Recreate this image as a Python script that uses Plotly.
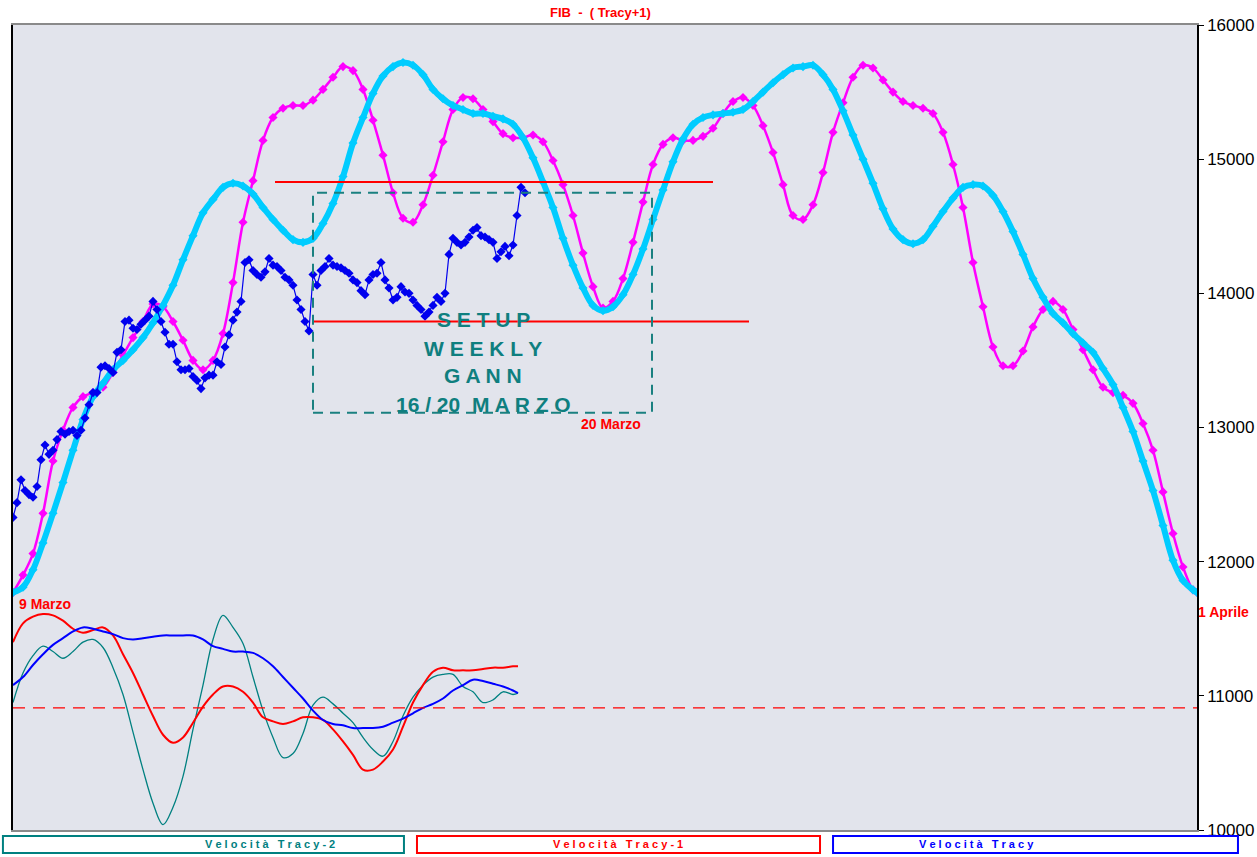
import plotly.graph_objects as go

# ---------------- data ----------------
# cycle curves (x = time step, common to both)
x_cycle = list(range(0, 1181, 10)) + [1184]
tracy_plus1 = [
    11770, 11900, 12060, 12360, 12750, 12980, 13150, 13230, 13260, 13300,
    13410, 13540, 13670, 13790, 13920, 13900, 13790, 13650, 13500, 13430,
    13500, 13700, 14080, 14530, 14840, 15140, 15310, 15380, 15400, 15400,
    15440, 15520, 15610, 15690, 15660, 15520, 15290, 15030, 14750, 14560,
    14530, 14660, 14880, 15130, 15370, 15460, 15450, 15370, 15280, 15190,
    15160, 15160, 15180, 15130, 14990, 14810, 14580, 14300, 14050, 13890,
    13940, 14110, 14380, 14680, 14960, 15110, 15160, 15140, 15140, 15170,
    15230, 15340, 15430, 15460, 15400, 15250, 15050, 14810, 14580, 14550,
    14660, 14900, 15200, 15420, 15610, 15700, 15680, 15590, 15500, 15430,
    15400, 15380, 15340, 15200, 14960, 14640, 14230, 13900, 13600, 13460,
    13460, 13570, 13750, 13880, 13940, 13880, 13730, 13580, 13430, 13300,
    13260, 13240, 13180, 13030, 12830, 12520, 12210, 11960, 11790, 11770,
]
tracy = [
    11770, 11810, 11940, 12140, 12360, 12590, 12830, 13060, 13230, 13330,
    13430, 13500, 13580, 13670, 13780, 13910, 14060, 14250, 14430, 14600,
    14700, 14790, 14820, 14800, 14740, 14640, 14550, 14470, 14400, 14380,
    14410, 14520, 14670, 14870, 15120, 15310, 15490, 15620, 15690, 15720,
    15700, 15630, 15520, 15450, 15400, 15370, 15340, 15340, 15320, 15300,
    15260, 15160, 15010, 14830, 14640, 14410, 14210, 14040, 13910, 13870,
    13900, 13990, 14140, 14330, 14550, 14770, 14980, 15150, 15260, 15310,
    15330, 15340, 15350, 15370, 15430, 15500, 15570, 15630, 15680, 15690,
    15700, 15630, 15520, 15360, 15180, 15000, 14820, 14630, 14480, 14400,
    14370, 14400, 14500, 14610, 14710, 14790, 14810, 14800, 14730, 14610,
    14460, 14290, 14110, 13970, 13850, 13780, 13700, 13630, 13560, 13440,
    13320, 13150, 12970, 12750, 12530, 12270, 12010, 11860, 11790, 11770,
]

# FIB price
x_price = list(range(0, 513, 4))
price = [
    12330, 12440, 12610, 12530, 12500, 12480, 12560, 12760, 12870, 12800,
    12830, 12910, 12970, 12950, 12970, 12980, 12940, 12980, 13070, 13170,
    13260, 13260, 13450, 13460, 13440, 13410, 13560, 13580, 13790, 13800,
    13740, 13730, 13770, 13800, 13830, 13940, 13880, 13790, 13710, 13620,
    13620, 13490, 13430, 13430, 13440, 13380, 13350, 13290, 13370, 13390,
    13390, 13490, 13470, 13600, 13690, 13800, 13860, 13940, 14230, 14250,
    14170, 14140, 14120, 14160, 14260, 14210, 14200, 14170, 14120, 14100,
    14060, 13950, 13880, 13790, 13720, 14140, 14060, 14170, 14200, 14260,
    14210, 14200, 14190, 14170, 14150, 14100, 14080, 14020, 13990, 14100,
    14140, 14150, 14230, 14100, 14040, 13950, 13970, 14050, 14010, 14000,
    13950, 13910, 13880, 13830, 13860, 13910, 13970, 13940, 14000, 14290,
    14410, 14380, 14360, 14380, 14420, 14470, 14490, 14430, 14420, 14400,
    14380, 14260, 14310, 14350, 14280, 14360, 14580, 14790, 14750,
]

# velocity indicators
x_vel = list(range(0, 501, 10)) + [505]
vel_tracy_2 = [
    10950, 11170, 11300, 11370, 11330, 11280, 11330, 11400, 11420, 11360,
    11210, 11010, 10730, 10450, 10200, 10040, 10170, 10400, 10750, 11080,
    11420, 11600, 11510, 11390, 11140, 10890, 10690, 10540, 10570, 10720,
    10930, 10990, 10940, 10870, 10800, 10690, 10600, 10550, 10660, 10850,
    10990, 11080, 11140, 11160, 11160, 11070, 11030, 10950, 10970, 11030,
    11010, 11020,
]
vel_tracy_1 = [
    11400, 11540, 11590, 11610, 11600, 11560, 11500, 11470, 11490, 11510,
    11450, 11310, 11170, 11010, 10850, 10710, 10650, 10690, 10800, 10920,
    11010, 11070, 11070, 11030, 10950, 10840, 10810, 10790, 10810, 10840,
    10840, 10820, 10750, 10660, 10560, 10450, 10450, 10510, 10600, 10770,
    10950, 11080, 11180, 11210, 11190, 11190, 11190, 11200, 11210, 11210,
    11220, 11220,
]
vel_tracy = [
    11080, 11140, 11230, 11310, 11380, 11430, 11480, 11510, 11500, 11480,
    11460, 11430, 11420, 11430, 11440, 11450, 11450, 11450, 11450, 11420,
    11370, 11350, 11330, 11330, 11320, 11280, 11220, 11140, 11060, 10980,
    10890, 10820, 10790, 10780, 10760, 10760, 10760, 10770, 10800, 10830,
    10870, 10910, 10940, 10980, 11040, 11080, 11120, 11110, 11090, 11070,
    11040, 11020,
]

# reference levels / setup box
resistance = 14830
resistance_x = (262, 700)
support = 13790
support_x = (300, 736)
vel_zero = 10910
setup_box = dict(x0=300, x1=639, y0=13110, y1=14750)

y_ticks = [10000, 11000, 12000, 13000, 14000, 15000, 16000]
y_tick_text = ["10000", "11000", "12000", "13000", "14000", "15000", "16000"]
legend_labels = ["Velocità Tracy-2", "Velocità Tracy-1", "Velocità Tracy"]

# ---------------- styles ----------------
FONT = "Liberation Sans, Arial, sans-serif"
MAGENTA = "#ff00ff"
CYAN = "#00ccff"
PRICE_BLUE = "#0000ee"
TEAL = "#008080"
RED = "#ff0000"
BLUE = "#0000ff"

fig = go.Figure()

fig.add_trace(go.Scatter(
    x=x_cycle, y=tracy_plus1, mode="lines+markers",
    line=dict(color=MAGENTA, width=2.5, shape="spline"),
    marker=dict(symbol="diamond", size=7, color=MAGENTA),
    name="Tracy+1"))
fig.add_trace(go.Scatter(
    x=x_cycle, y=tracy, mode="lines+markers",
    line=dict(color=CYAN, width=6, shape="spline"),
    marker=dict(symbol="diamond", size=7, color=CYAN),
    name="Tracy"))
fig.add_trace(go.Scatter(
    x=x_price, y=price, mode="lines+markers",
    line=dict(color=PRICE_BLUE, width=1.2),
    marker=dict(symbol="diamond", size=7, color=PRICE_BLUE),
    name="FIB"))
fig.add_trace(go.Scatter(
    x=x_vel, y=vel_tracy_2, mode="lines",
    line=dict(color=TEAL, width=1.3, shape="spline"), name=legend_labels[0]))
fig.add_trace(go.Scatter(
    x=x_vel, y=vel_tracy_1, mode="lines",
    line=dict(color=RED, width=2, shape="spline"), name=legend_labels[1]))
fig.add_trace(go.Scatter(
    x=x_vel, y=vel_tracy, mode="lines",
    line=dict(color=BLUE, width=2, shape="spline"), name=legend_labels[2]))

shapes = [
    dict(type="line", xref="x", yref="y", x0=resistance_x[0], x1=resistance_x[1],
         y0=resistance, y1=resistance, line=dict(color=RED, width=2)),
    dict(type="line", xref="x", yref="y", x0=support_x[0], x1=support_x[1],
         y0=support, y1=support, line=dict(color=RED, width=2)),
    dict(type="rect", xref="x", yref="y", **setup_box,
         line=dict(color="#1a8080", width=2, dash="10px,7px")),
    dict(type="line", xref="paper", yref="y", x0=0, x1=1, y0=vel_zero, y1=vel_zero,
         line=dict(color=RED, width=1.3, dash="12px,8px")),
]

legend_boxes = [(-0.0085, 0.3302, TEAL), (0.3412, 0.6816, RED), (0.6926, 1.0346, BLUE)]
for (x0, x1, col) in legend_boxes:
    shapes.append(dict(type="rect", xref="paper", yref="paper", x0=x0, x1=x1,
                       y0=-0.0286, y1=-0.0075, line=dict(color=col, width=2),
                       fillcolor="rgba(0,0,0,0)", layer="above"))

def spaced(txt):
    words = txt.split(" ")
    return "\u00a0\u00a0\u00a0".join(" ".join(list(w)) for w in words)

annotations = [
    dict(text="<b>FIB  -  ( Tracy+1)</b>", xref="paper", yref="paper",
         x=0.4958, y=1.016, yanchor="middle", showarrow=False,
         font=dict(family=FONT, size=13, color=RED)),
    dict(text="<b>9 Marzo</b>", x=4, y=11685, xanchor="left", showarrow=False,
         font=dict(family=FONT, size=14, color=RED)),
    dict(text="<b>20 Marzo</b>", x=566, y=13026, xanchor="left", showarrow=False,
         font=dict(family=FONT, size=14, color=RED)),
    dict(text="<b>1 Aprile</b>", x=1183, y=11625, xanchor="left", showarrow=False,
         font=dict(family=FONT, size=14, color=RED)),
]
setup_lines = [("S E T U P", 13805), ("W E E K L Y", 13590), ("G A N N", 13388),
               ("16 / 20 \u00a0M A R Z O", 13172)]
for txt, yv in setup_lines:
    annotations.append(dict(text="<b>" + txt + "</b>", x=470, y=yv, showarrow=False,
                            font=dict(family=FONT, size=21, color="#0f7f7f")))
for (x0, x1, col), lab in zip(legend_boxes, legend_labels):
    annotations.append(dict(text="<b>" + spaced(lab) + "</b>", xref="paper", yref="paper",
                            x=(x0 + x1) / 2, y=-0.018, yanchor="middle",
                            showarrow=False,
                            font=dict(family=FONT, size=11, color=col)))

fig.update_layout(
    width=1257, height=857,
    margin=dict(l=13, r=60, t=25, b=27),
    paper_bgcolor="white", plot_bgcolor="#e2e4ec",
    showlegend=False,
    shapes=shapes, annotations=annotations,
    xaxis=dict(range=[0, 1184], showticklabels=False, ticks="", showgrid=False,
               zeroline=False, showline=True, linecolor="#8a8a8a", linewidth=1.5,
               mirror=True, fixedrange=True),
    yaxis=dict(range=[10000, 16000], side="right", tickvals=y_ticks,
               ticktext=y_tick_text,
               ticks="outside", ticklen=5, tickcolor="black",
               showgrid=False, zeroline=False, showline=True, linecolor="black",
               linewidth=1.5, mirror=True, automargin=False,
               tickfont=dict(family=FONT, size=17, color="black")),
)

fig.write_html(
    "out.html",
    config={"displayModeBar": False},
    post_script="document.body.style.margin='0';document.body.style.overflow='hidden';",
)
